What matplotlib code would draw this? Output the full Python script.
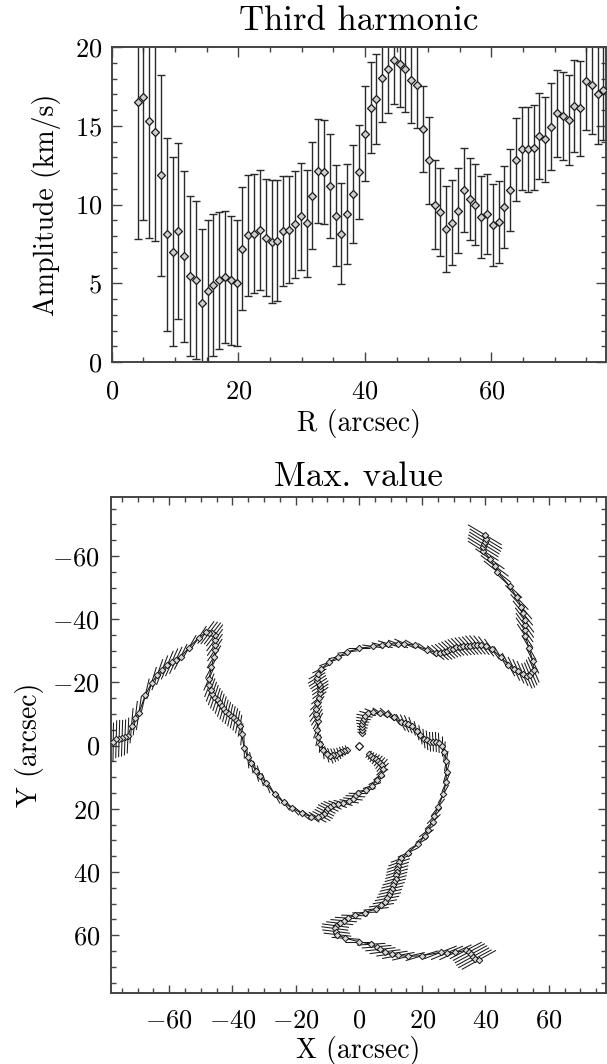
import numpy as np
import matplotlib
matplotlib.use("Agg")
import matplotlib.pyplot as plt
from matplotlib.ticker import MultipleLocator
from matplotlib.collections import LineCollection

plt.rcParams["font.family"] = ["cmr10", "DejaVu Serif"]
plt.rcParams["mathtext.fontset"] = "cm"
plt.rcParams["axes.formatter.use_mathtext"] = True

# ---------------- data ----------------
radius = [4.10, 5.02, 5.94, 6.86, 7.78, 8.70, 9.62, 10.54, 11.46, 12.38,
          13.30, 14.22, 15.14, 16.06, 16.98, 17.90, 18.82, 19.74, 20.66, 21.58,
          22.50, 23.42, 24.34, 25.26, 26.18, 27.10, 28.02, 28.94, 29.86, 30.78,
          31.70, 32.62, 33.54, 34.46, 35.38, 36.30, 37.22, 38.14, 39.06, 39.98,
          40.90, 41.82, 42.74, 43.66, 44.58, 45.50, 46.42, 47.34, 48.26, 49.18,
          50.10, 51.02, 51.94, 52.86, 53.78, 54.70, 55.62, 56.54, 57.46, 58.38,
          59.30, 60.22, 61.14, 62.06, 62.98, 63.90, 64.82, 65.74, 66.66, 67.58,
          68.50, 69.42, 70.34, 71.26, 72.18, 73.10, 74.02, 74.94, 75.86, 76.78,
          77.70]

amplitude = [16.5, 16.85, 15.3, 14.6, 11.85, 8.1, 7.0, 8.3, 6.7, 5.45,
             5.2, 3.75, 4.5, 4.9, 5.2, 5.4, 5.2, 5.0, 7.2, 8.05,
             8.15, 8.4, 7.9, 7.65, 7.7, 8.3, 8.4, 8.75, 9.25, 8.8,
             10.55, 12.1, 12.05, 11.15, 9.3, 8.15, 9.4, 10.65, 12.05, 14.5,
             16.15, 16.7, 18.05, 18.6, 19.15, 18.9, 18.6, 17.9, 17.6, 14.8,
             12.8, 10.0, 9.5, 8.45, 8.85, 9.6, 10.9, 10.35, 10.0, 9.2,
             9.4, 8.7, 8.9, 9.85, 10.9, 12.85, 13.55, 13.5, 13.6, 14.35,
             14.15, 14.95, 15.8, 15.6, 15.35, 16.25, 16.1, 17.85, 17.6, 17.0,
             17.3]

amplitude_err = [8.7, 7.85, 7.4, 6.9, 6.4, 6.1, 6.0, 5.6, 5.4, 5.1,
                 5.0, 4.7, 4.5, 4.5, 4.35, 4.2, 4.1, 4.0, 3.9, 3.85,
                 3.8, 3.8, 3.7, 3.9, 3.85, 3.5, 3.4, 3.4, 3.4, 3.4,
                 3.4, 3.3, 3.3, 3.3, 3.2, 3.2, 3.2, 3.1, 3.0, 3.0,
                 2.9, 2.85, 2.8, 2.8, 2.8, 2.7, 2.7, 2.7, 2.75, 2.75,
                 2.77, 2.8, 2.8, 2.75, 2.7, 2.7, 2.67, 2.6, 2.6, 2.6,
                 2.56, 2.6, 2.6, 2.6, 2.6, 2.63, 2.65, 2.7, 2.7, 2.7,
                 2.7, 2.75, 2.77, 2.8, 2.85, 2.93, 3.0, 3.1, 3.15, 3.17,
                 3.2]

# position angle (deg) of the first maximum of the m=3 term
phase_deg = [42, 41, 40.5, 39, 38.5, 39.5, 40.5, 45, 53, 63,
             72, 81, 91, 94, 96.5, 100, 105.5, 110, 113.8, 115.5,
             116.9, 117, 117.3, 118, 120, 124, 130, 137, 143, 150,
             158, 163, 166, 171, 174, 179, 185.5, 189.5, 191, 192,
             192.7, 193.3, 194, 194.6, 195.5, 196.3, 197.2, 198, 198.7, 199.6,
             200.6, 202, 204, 208, 211.5, 213.6, 215, 216.2, 217.4, 217.5,
             217, 216.5, 214, 210, 206.5, 205, 204, 202.8, 201, 199.4,
             196.8, 193.3, 188.5, 187, 185, 182.5, 182, 181.8, 181.7, 181.5,
             180.8]

# azimuthal uncertainty of the maximum, as half length along the arc (arcsec)
phase_err_arcsec = [1.4, 1.5, 1.7, 1.9, 2.1, 2.3, 2.6, 2.7, 2.9, 2.9,
                    3.0, 3.0, 3.0, 3.1, 3.1, 3.1, 3.1, 3.1, 3.1, 3.1,
                    3.1, 3.1, 3.2, 3.2, 3.2, 3.2, 3.2, 3.2, 3.2, 3.4,
                    3.4, 3.4, 3.4, 3.4, 3.5, 3.5, 3.5, 3.5, 3.6, 3.6,
                    3.6, 3.6, 3.6, 3.6, 3.8, 3.8, 3.8, 3.8, 3.9, 3.9,
                    3.9, 4.0, 4.0, 4.0, 4.2, 4.2, 4.2, 4.3, 4.3, 4.3,
                    4.4, 4.4, 4.4, 4.5, 4.5, 4.7, 4.8, 4.9, 5.0, 5.2,
                    5.3, 5.4, 5.5, 5.5, 5.6, 5.7, 5.7, 5.8, 5.9, 6.0,
                    6.2]

arm_offsets_deg = [0, 120, 240]
center_x = [0.0]
center_y = [0.0]

top_title = "Third harmonic"
top_xlabel = "R (arcsec)"
top_ylabel = "Amplitude (km/s)"
bot_title = "Max. value"
bot_xlabel = "X (arcsec)"
bot_ylabel = "Y (arcsec)"

# ---------------- figure ----------------
W, H = 607, 1064
fig = plt.figure(figsize=(W / 100, H / 100), dpi=100)

ink = "#1a1a1a"
spine_col = "#444444"

def style_axes(ax, maj_len, min_len):
    for s in ax.spines.values():
        s.set_color(spine_col)
        s.set_linewidth(1.4)
    ax.tick_params(which="both", direction="in", top=True, right=True,
                   colors=spine_col, labelcolor="black", width=1.0)
    ax.tick_params(which="major", length=maj_len)
    ax.tick_params(which="minor", length=min_len)

# ---- top panel ----
ax1 = fig.add_axes([111.7 / W, 1 - 362 / H, (606 - 111.7) / W, (362 - 47) / H])
r = np.array(radius)
ax1.errorbar(r, amplitude, yerr=amplitude_err, fmt="none", ecolor="#2a2a2a",
             elinewidth=1.0, capsize=2.6, capthick=1.0, zorder=2)
ax1.plot(r, amplitude, linestyle="none", marker="D", markersize=4.2,
         markerfacecolor="#cfcfcf", markeredgecolor=ink, markeredgewidth=0.9,
         zorder=3)
ax1.set_xlim(0, 78.1)
ax1.set_ylim(0, 20)
ax1.xaxis.set_major_locator(MultipleLocator(20))
ax1.xaxis.set_minor_locator(MultipleLocator(5))
ax1.yaxis.set_major_locator(MultipleLocator(5))
ax1.yaxis.set_minor_locator(MultipleLocator(1))
style_axes(ax1, 7, 3.5)
ax1.tick_params(axis="x", which="major", pad=13, labelsize=19)
ax1.tick_params(axis="y", which="major", pad=7, labelsize=19)
ax1.set_title(top_title, fontsize=25, pad=12)
ax1.set_xlabel(top_xlabel, fontsize=20, labelpad=4)
ax1.set_ylabel(top_ylabel, fontsize=20, labelpad=10)

# ---- bottom panel ----
ax2 = fig.add_axes([111 / W, 1 - 993 / H, (606 - 111) / W, (993 - 497) / H])
ph = np.radians(np.array(phase_deg))
herr = np.array(phase_err_arcsec)
for off in arm_offsets_deg:
    th = ph + np.radians(off)
    x = r * np.cos(th)
    y = r * np.sin(th)
    tx, ty = -np.sin(th), np.cos(th)
    segs = np.stack([np.column_stack([x - herr * tx, y - herr * ty]),
                     np.column_stack([x + herr * tx, y + herr * ty])], axis=1)
    ax2.add_collection(LineCollection(segs, colors=ink, linewidths=0.75, zorder=2))
    ax2.plot(x, y, color=ink, linewidth=0.8, zorder=2)
    ax2.plot(x, y, linestyle="none", marker="D", markersize=3.3,
             markerfacecolor="#d8d8d8", markeredgecolor=ink,
             markeredgewidth=0.7, zorder=3)
ax2.plot(center_x, center_y, linestyle="none", marker="D", markersize=3.6,
         markerfacecolor="white", markeredgecolor=ink, markeredgewidth=0.9,
         zorder=3)
ax2.set_xlim(-78.4, 78.1)
ax2.set_ylim(78.3, -78.7)
ax2.xaxis.set_major_locator(MultipleLocator(20))
ax2.xaxis.set_minor_locator(MultipleLocator(5))
ax2.yaxis.set_major_locator(MultipleLocator(20))
ax2.yaxis.set_minor_locator(MultipleLocator(5))
style_axes(ax2, 6, 3.5)
ax2.tick_params(axis="x", which="major", pad=11, labelsize=19)
ax2.tick_params(axis="y", which="major", pad=8, labelsize=19)
ax2.set_title(bot_title, fontsize=25, pad=8)
ax2.set_xlabel(bot_xlabel, fontsize=20, labelpad=3)
ax2.set_ylabel(bot_ylabel, fontsize=20, labelpad=6)

fig.savefig("out.png", dpi=100)
